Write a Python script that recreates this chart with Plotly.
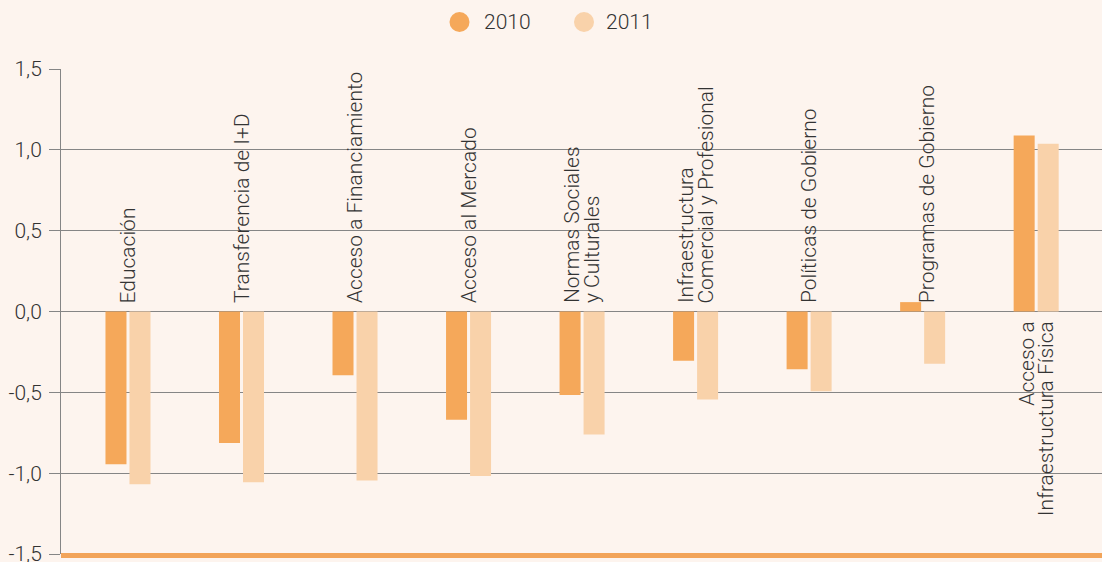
import plotly.graph_objects as go

categories = [
    "Educación",
    "Transferencia de I+D",
    "Acceso a Financiamiento",
    "Acceso al Mercado",
    "Normas Sociales<br>y Culturales",
    "Infraestructura<br>Comercial y Profesional",
    "Políticas de Gobierno",
    "Programas de Gobierno",
    "Acceso a<br>Infraestructura Física",
]
series_names = ["2010", "2011"]
values_2010 = [-0.945, -0.813, -0.395, -0.670, -0.516, -0.305, -0.357, 0.058, 1.088]
values_2011 = [-1.069, -1.056, -1.046, -1.017, -0.761, -0.544, -0.493, -0.323, 1.038]
tick_vals = [-1.5, -1.0, -0.5, 0.0, 0.5, 1.0, 1.5]
tick_text = ["-1,5", "-1,0", "-0,5", "0,0", "0,5", "1,0", "1,5"]

C2010 = "#F5A85A"
C2011 = "#F9D2AA"
BG = "#FDF4EE"
FONT = "Roboto"
TXT = "#333333"
GRID = "#858585"
FS = 21

idx = list(range(len(categories)))

fig = go.Figure()
fig.add_trace(go.Bar(x=idx, y=values_2010, name=series_names[0],
                     marker=dict(color=C2010, line=dict(width=0)), showlegend=False))
fig.add_trace(go.Bar(x=idx, y=values_2011, name=series_names[1],
                     marker=dict(color=C2011, line=dict(width=0)), showlegend=False))

annotations = []
shapes = []
PITCH = 20
for i, (cat, a, b) in enumerate(zip(categories, values_2010, values_2011)):
    lines = cat.split("<br>")
    n = len(lines)
    above = max(a, b) <= 0.5
    base_xs = 4 if (above and a > 0) else 0
    for k, line in enumerate(lines):
        xs = base_xs + (k - (n - 1) / 2) * PITCH
        if above:
            annotations.append(dict(x=i, y=0, xref="x", yref="y", text=line, textangle=-90,
                                    showarrow=False, yanchor="bottom", xanchor="center",
                                    yshift=6, xshift=xs,
                                    font=dict(family=FONT, size=FS, color=TXT, weight=300)))
        else:
            annotations.append(dict(x=i, y=0, xref="x", yref="y", text=line, textangle=-90,
                                    showarrow=False, yanchor="top", xanchor="center",
                                    yshift=-8, xshift=xs,
                                    font=dict(family=FONT, size=FS, color=TXT, weight=300)))

# manual legend (circle markers)
leg_y = 1.0969
for name, col, cx, tx in [(series_names[0], C2010, 0.3828, 0.4044),
                          (series_names[1], C2011, 0.5024, 0.5216)]:
    shapes.append(dict(type="circle", xref="paper", yref="paper", xsizemode="pixel", ysizemode="pixel",
                       xanchor=cx, yanchor=leg_y, x0=-10, x1=10, y0=-10, y1=10,
                       fillcolor=col, line=dict(width=0)))
    annotations.append(dict(x=tx, y=leg_y, xref="paper", yref="paper", text=name, showarrow=False,
                            xanchor="left", yanchor="middle",
                            font=dict(family=FONT, size=FS, color=TXT, weight=300)))

# thick orange baseline at the bottom of the plot
shapes.append(dict(type="rect", xref="paper", yref="paper", ysizemode="pixel", yanchor=0,
                   x0=0, x1=1, y0=1, y1=-4, fillcolor="#F2A459", line=dict(width=0), layer="above"))

fig.update_layout(
    width=1102, height=562,
    paper_bgcolor=BG, plot_bgcolor=BG,
    margin=dict(l=61, r=0, t=69, b=8, autoexpand=False),
    barmode="group", bargap=0.577, bargroupgap=0.125,
    font=dict(family=FONT, size=FS, color=TXT, weight=300),
    showlegend=False,
    xaxis=dict(range=[-0.59, 8.58], showticklabels=False, showgrid=False, zeroline=False,
               showline=False, ticks="", automargin=False),
    yaxis=dict(range=[-1.5, 1.5], tickvals=tick_vals, ticktext=tick_text,
               showgrid=True, gridcolor=GRID, gridwidth=1, zeroline=False,
               showline=True, linecolor=GRID, linewidth=1, automargin=False,
               ticks="outside", ticklen=11, tickcolor=GRID, tickwidth=1,
               ticklabeloverflow="allow", ticklabelstandoff=3,
               tickfont=dict(family=FONT, size=FS, color=TXT, weight=300)),
    annotations=annotations,
    shapes=shapes,
)

fig.write_html("out.html", config={"displayModeBar": False},
               post_script="document.body.style.margin='0';document.body.style.background='" + BG + "';")
